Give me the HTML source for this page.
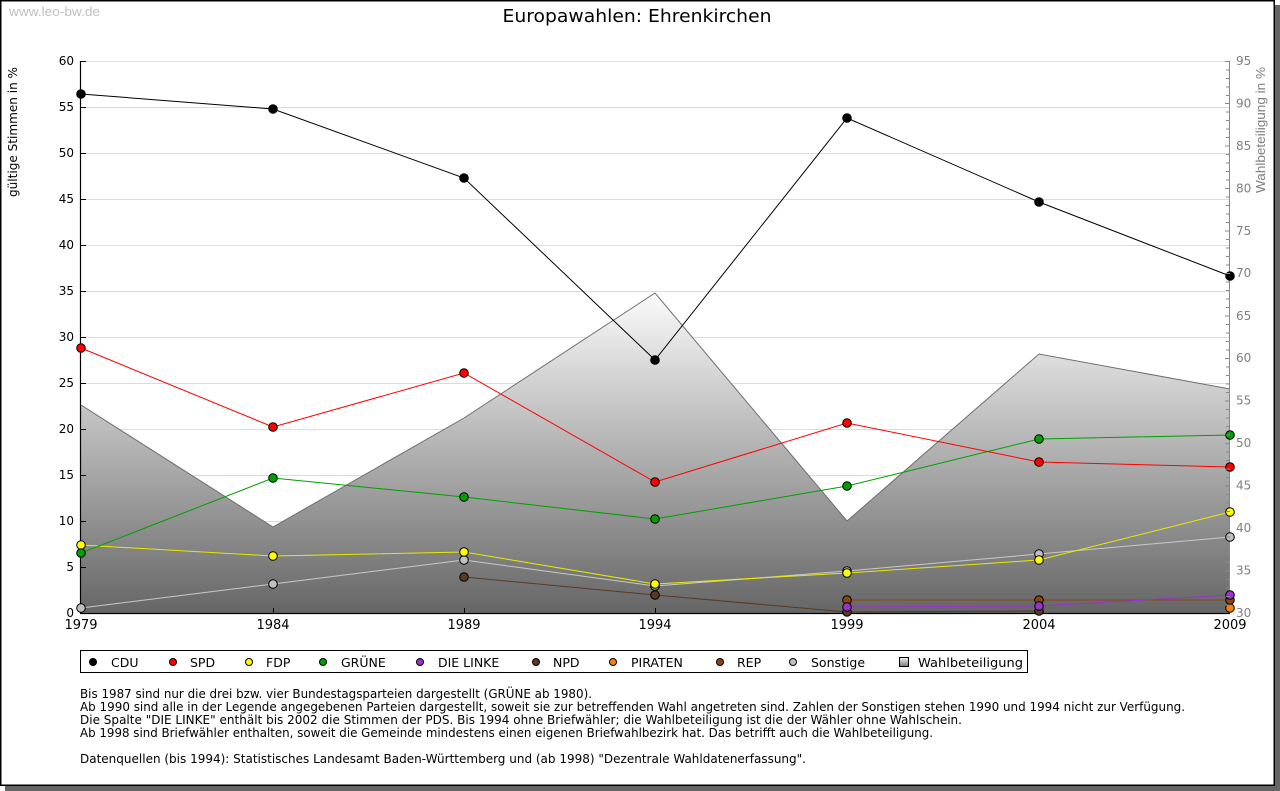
<!DOCTYPE html>
<html><head><meta charset="utf-8"><style>
html,body{margin:0;padding:0;background:#fff;}
svg{display:block;}
text{font-family:"DejaVu Sans","Liberation Sans",sans-serif;}
</style></head><body>
<svg width="1280" height="791" viewBox="0 0 1280 791" xmlns="http://www.w3.org/2000/svg">
<defs>
<linearGradient id="g" x1="0" y1="293" x2="0" y2="613" gradientUnits="userSpaceOnUse">
<stop offset="0" stop-color="#fbfbfb"/>
<stop offset="1" stop-color="#666666"/>
</linearGradient>
<linearGradient id="gl" x1="0" y1="0" x2="0" y2="1">
<stop offset="0" stop-color="#f4f4f4"/>
<stop offset="1" stop-color="#777"/>
</linearGradient>
</defs>
<rect x="0" y="0" width="1280" height="791" fill="#fff"/>
<rect x="5" y="5" width="1275" height="786" fill="#666"/>
<rect x="0.75" y="0.75" width="1273.5" height="784.5" fill="#fff" stroke="#000" stroke-width="1.5"/>

<text x="9" y="16" font-size="13" fill="#c0c0c0" textLength="91" lengthAdjust="spacingAndGlyphs" style="font-family:'Liberation Sans',sans-serif">www.leo-bw.de</text>
<text x="637" y="22" font-size="18" text-anchor="middle" textLength="269" lengthAdjust="spacingAndGlyphs" fill="#000">Europawahlen: Ehrenkirchen</text>

<!-- gridlines -->
<g stroke="#dcdcdc" stroke-width="1">
<line x1="81" y1="61.5" x2="1229" y2="61.5"/>
<line x1="81" y1="107.5" x2="1229" y2="107.5"/>
<line x1="81" y1="153.5" x2="1229" y2="153.5"/>
<line x1="81" y1="199.5" x2="1229" y2="199.5"/>
<line x1="81" y1="245.5" x2="1229" y2="245.5"/>
<line x1="81" y1="291.5" x2="1229" y2="291.5"/>
<line x1="81" y1="337.5" x2="1229" y2="337.5"/>
<line x1="81" y1="383.5" x2="1229" y2="383.5"/>
<line x1="81" y1="429.5" x2="1229" y2="429.5"/>
<line x1="81" y1="475.5" x2="1229" y2="475.5"/>
<line x1="81" y1="521.5" x2="1229" y2="521.5"/>
<line x1="81" y1="567.5" x2="1229" y2="567.5"/>
</g>

<!-- Wahlbeteiligung area -->
<polygon points="81,405 273,527 464,418 655,293 847,521 1039,354 1230,389 1230,613 81,613" fill="url(#g)"/>
<polyline points="81,405 273,527 464,418 655,293 847,521 1039,354 1230,389" fill="none" stroke="#6e6e6e" stroke-width="1"/>

<!-- axes -->
<line x1="80.5" y1="61" x2="80.5" y2="613" stroke="#000" stroke-width="1.2"/>
<line x1="80" y1="613.5" x2="1230" y2="613.5" stroke="#000" stroke-width="1.2"/>
<line x1="1229.5" y1="61" x2="1229.5" y2="613" stroke="#888" stroke-width="1"/>
<g stroke="#000" stroke-width="1">
<line x1="80" y1="61.5" x2="86" y2="61.5"/>
<line x1="80" y1="107.5" x2="86" y2="107.5"/>
<line x1="80" y1="153.5" x2="86" y2="153.5"/>
<line x1="80" y1="199.5" x2="86" y2="199.5"/>
<line x1="80" y1="245.5" x2="86" y2="245.5"/>
<line x1="80" y1="291.5" x2="86" y2="291.5"/>
<line x1="80" y1="337.5" x2="86" y2="337.5"/>
<line x1="80" y1="383.5" x2="86" y2="383.5"/>
<line x1="80" y1="429.5" x2="86" y2="429.5"/>
<line x1="80" y1="475.5" x2="86" y2="475.5"/>
<line x1="80" y1="521.5" x2="86" y2="521.5"/>
<line x1="80" y1="567.5" x2="86" y2="567.5"/>
<line x1="273.5" y1="608" x2="273.5" y2="613"/>
<line x1="464.5" y1="608" x2="464.5" y2="613"/>
<line x1="655.5" y1="608" x2="655.5" y2="613"/>
<line x1="847.5" y1="608" x2="847.5" y2="613"/>
<line x1="1039.5" y1="608" x2="1039.5" y2="613"/>
</g>

<!-- left labels -->
<g font-size="12" fill="#000" text-anchor="end">
<text x="74" y="65">60</text>
<text x="74" y="111">55</text>
<text x="74" y="157">50</text>
<text x="74" y="203">45</text>
<text x="74" y="249">40</text>
<text x="74" y="295">35</text>
<text x="74" y="341">30</text>
<text x="74" y="387">25</text>
<text x="74" y="433">20</text>
<text x="74" y="479">15</text>
<text x="74" y="525">10</text>
<text x="74" y="571">5</text>
<text x="74" y="617">0</text>
</g>
<!-- right labels -->
<g font-size="12" fill="#808080" style="font-family:'Liberation Sans',sans-serif">
<text x="1236" y="65">95</text>
<text x="1236" y="107.5">90</text>
<text x="1236" y="150">85</text>
<text x="1236" y="192.4">80</text>
<text x="1236" y="235">75</text>
<text x="1236" y="277">70</text>
<text x="1236" y="320">65</text>
<text x="1236" y="362">60</text>
<text x="1236" y="404.7">55</text>
<text x="1236" y="447">50</text>
<text x="1236" y="489.6">45</text>
<text x="1236" y="532">40</text>
<text x="1236" y="574.5">35</text>
<text x="1236" y="617">30</text>
</g>
<!-- year labels -->
<g font-size="13" fill="#000" text-anchor="middle">
<text x="81" y="629">1979</text>
<text x="273" y="629">1984</text>
<text x="464" y="629">1989</text>
<text x="655" y="629">1994</text>
<text x="847" y="629">1999</text>
<text x="1039" y="629">2004</text>
<text x="1230" y="629">2009</text>
</g>
<!-- axis titles -->
<text transform="translate(17,132) rotate(-90)" font-size="12.5" text-anchor="middle" fill="#000" textLength="130" lengthAdjust="spacingAndGlyphs">gültige Stimmen in %</text>
<text transform="translate(1265,130) rotate(-90)" font-size="13" text-anchor="middle" fill="#808080" textLength="126" lengthAdjust="spacingAndGlyphs" style="font-family:'Liberation Sans',sans-serif">Wahlbeteiligung in %</text>

<!-- series lines -->
<g fill="none" stroke-width="1">
<polyline stroke="#c8c8c8" points="81,608 273,584 464,560 655,586 847,571 1039,554 1230,537"/>
<polyline stroke="#5a3a24" points="464,577 655,595 847,612 1039,611"/>
<polyline stroke="#8b4513" points="847,600 1039,600 1230,600"/>
<polyline stroke="#9932cc" points="847,607 1039,606 1230,595"/>
<polyline stroke="#e8e800" points="81,545 273,556 464,552 655,584 847,573 1039,560 1230,512"/>
<polyline stroke="#00a000" points="81,553 273,478 464,497 655,519 847,486 1039,439 1230,435"/>
<polyline stroke="#ff0000" points="81,348 273,427 464,373 655,482 847,423 1039,462 1230,467"/>
<polyline stroke="#000" points="81,94 273,109 464,178 655,360 847,118 1039,202 1230,276"/>
</g>
<!-- markers -->
<g stroke="#000" stroke-width="1">
<g fill="#c0c0c0"><circle cx="81" cy="608" r="4.3"/><circle cx="273" cy="584" r="4.3"/><circle cx="464" cy="560" r="4.3"/><circle cx="655" cy="586" r="4.3"/><circle cx="847" cy="571" r="4.3"/><circle cx="1039" cy="554" r="4.3"/><circle cx="1230" cy="537" r="4.3"/></g>
<g fill="#5a3a24"><circle cx="464" cy="577" r="4.3"/><circle cx="655" cy="595" r="4.3"/><circle cx="847" cy="612" r="4.3"/><circle cx="1039" cy="611" r="4.3"/></g>
<g fill="#ff8000"><circle cx="1230" cy="608" r="4.3"/></g>
<g fill="#8b4513"><circle cx="847" cy="600" r="4.3"/><circle cx="1039" cy="600" r="4.3"/><circle cx="1230" cy="600" r="4.3"/></g>
<g fill="#9932cc"><circle cx="847" cy="607" r="4.3"/><circle cx="1039" cy="606" r="4.3"/><circle cx="1230" cy="595" r="4.3"/></g>
<g fill="#ffff00"><circle cx="81" cy="545" r="4.3"/><circle cx="273" cy="556" r="4.3"/><circle cx="464" cy="552" r="4.3"/><circle cx="655" cy="584" r="4.3"/><circle cx="847" cy="573" r="4.3"/><circle cx="1039" cy="560" r="4.3"/><circle cx="1230" cy="512" r="4.3"/></g>
<g fill="#00a000"><circle cx="81" cy="553" r="4.3"/><circle cx="273" cy="478" r="4.3"/><circle cx="464" cy="497" r="4.3"/><circle cx="655" cy="519" r="4.3"/><circle cx="847" cy="486" r="4.3"/><circle cx="1039" cy="439" r="4.3"/><circle cx="1230" cy="435" r="4.3"/></g>
<g fill="#ff0000"><circle cx="81" cy="348" r="4.3"/><circle cx="273" cy="427" r="4.3"/><circle cx="464" cy="373" r="4.3"/><circle cx="655" cy="482" r="4.3"/><circle cx="847" cy="423" r="4.3"/><circle cx="1039" cy="462" r="4.3"/><circle cx="1230" cy="467" r="4.3"/></g>
<g fill="#000"><circle cx="81" cy="94" r="4.3"/><circle cx="273" cy="109" r="4.3"/><circle cx="464" cy="178" r="4.3"/><circle cx="655" cy="360" r="4.3"/><circle cx="847" cy="118" r="4.3"/><circle cx="1039" cy="202" r="4.3"/><circle cx="1230" cy="276" r="4.3"/></g>
</g>

<!-- legend -->
<rect x="80.5" y="650.5" width="947" height="22" fill="#fff" stroke="#000" stroke-width="1"/>
<g stroke="#000" stroke-width="1">
<circle cx="93" cy="662" r="3.5" fill="#000"/>
<circle cx="173" cy="662" r="3.5" fill="#ff0000"/>
<circle cx="249" cy="662" r="3.5" fill="#ffff00"/>
<circle cx="323" cy="662" r="3.5" fill="#00a000"/>
<circle cx="420" cy="662" r="3.5" fill="#9932cc"/>
<circle cx="536" cy="662" r="3.5" fill="#5a3a24"/>
<circle cx="613" cy="662" r="3.5" fill="#ff8000"/>
<circle cx="720" cy="662" r="3.5" fill="#8b4513"/>
<circle cx="793" cy="662" r="3.5" fill="#c0c0c0"/>
<rect x="899.5" y="657.5" width="9" height="9" fill="url(#gl)"/>
</g>
<g font-size="12.5" fill="#000">
<text x="111" y="667">CDU</text>
<text x="190" y="667">SPD</text>
<text x="266" y="667">FDP</text>
<text x="341" y="667">GRÜNE</text>
<text x="438" y="667">DIE LINKE</text>
<text x="553" y="667">NPD</text>
<text x="631" y="667">PIRATEN</text>
<text x="737" y="667">REP</text>
<text x="811" y="667">Sonstige</text>
<text x="918" y="667" textLength="105" lengthAdjust="spacingAndGlyphs">Wahlbeteiligung</text>
</g>

<!-- notes -->
<g font-size="12" fill="#000">
<text x="80" y="698" textLength="512" lengthAdjust="spacingAndGlyphs">Bis 1987 sind nur die drei bzw. vier Bundestagsparteien dargestellt (GRÜNE ab 1980).</text>
<text x="80" y="711" textLength="1105" lengthAdjust="spacingAndGlyphs">Ab 1990 sind alle in der Legende angegebenen Parteien dargestellt, soweit sie zur betreffenden Wahl angetreten sind. Zahlen der Sonstigen stehen 1990 und 1994 nicht zur Verfügung.</text>
<text x="80" y="724" textLength="882" lengthAdjust="spacingAndGlyphs">Die Spalte "DIE LINKE" enthält bis 2002 die Stimmen der PDS. Bis 1994 ohne Briefwähler; die Wahlbeteiligung ist die der Wähler ohne Wahlschein.</text>
<text x="80" y="737" textLength="853" lengthAdjust="spacingAndGlyphs">Ab 1998 sind Briefwähler enthalten, soweit die Gemeinde mindestens einen eigenen Briefwahlbezirk hat. Das betrifft auch die Wahlbeteiligung.</text>
<text x="80" y="763" textLength="726" lengthAdjust="spacingAndGlyphs">Datenquellen (bis 1994): Statistisches Landesamt Baden-Württemberg und (ab 1998) "Dezentrale Wahldatenerfassung".</text>
</g>

<!-- right minor ticks -->
<g stroke="#888" stroke-width="1">
<path d="M1225 61.5h5M1226 70h4M1226 78.5h4M1226 87h4M1226 95.5h4M1225 103.5h5M1226 112h4M1226 120.5h4M1226 129h4M1226 137.5h4M1225 146h5M1226 154.5h4M1226 163h4M1226 171.5h4M1226 180h4M1225 188.5h5M1226 197h4M1226 205.5h4M1226 214h4M1226 222.5h4M1225 231h5M1226 239.5h4M1226 248h4M1226 256.5h4M1226 265h4M1225 273.5h5M1226 282h4M1226 290.5h4M1226 299h4M1226 307.5h4M1225 316h5M1226 324.5h4M1226 333h4M1226 341.5h4M1226 350h4M1225 358.5h5M1226 367h4M1226 375.5h4M1226 384h4M1226 392.5h4M1225 401h5M1226 409.5h4M1226 418h4M1226 426.5h4M1226 435h4M1225 443.5h5M1226 452h4M1226 460.5h4M1226 469h4M1226 477.5h4M1225 486h5M1226 494.5h4M1226 503h4M1226 511.5h4M1226 520h4M1225 528.5h5M1226 537h4M1226 545.5h4M1226 554h4M1226 562.5h4M1225 571h5M1226 579.5h4M1226 588h4M1226 596.5h4M1226 605h4"/>
</g>
</svg>
</body></html>
